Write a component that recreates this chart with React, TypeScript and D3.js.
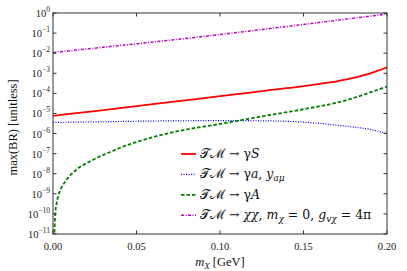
import React, { useRef, useEffect } from "react";
import * as d3 from "d3";

// m_X [GeV] sample points for each curve
const massS = [0, 0.025, 0.05, 0.075, 0.1, 0.125, 0.15, 0.16, 0.17, 0.175, 0.18, 0.185, 0.19, 0.195, 0.2];
const brS = [7.6e-6, 1.32e-5, 2.3e-5, 4.1e-5, 7.2e-5, 1.29e-4, 2.3e-4, 3.0e-4, 4.0e-4, 4.8e-4, 5.9e-4, 7.6e-4, 1.0e-3, 1.38e-3, 2.0e-3];

const massA = [0, 0.025, 0.05, 0.075, 0.1, 0.125, 0.15, 0.16, 0.17, 0.18, 0.19, 0.2];
const brA = [3.6e-6, 3.8e-6, 4.1e-6, 4.3e-6, 4.4e-6, 4.3e-6, 3.7e-6, 3.2e-6, 2.6e-6, 2.1e-6, 1.6e-6, 1.0e-6];

const massBigA = [0.0008, 0.001, 0.0014, 0.0022, 0.003, 0.004, 0.0056, 0.0074, 0.0096, 0.012, 0.015, 0.0174, 0.0206, 0.027, 0.032, 0.038, 0.05, 0.075, 0.1, 0.125, 0.15, 0.175, 0.19, 0.2];
const brBigA = [6.3e-12, 2.5e-11, 1.12e-10, 3.4e-10, 7.2e-10, 1.29e-9, 2.45e-9, 4.1e-9, 7.2e-9, 1.12e-8, 1.86e-8, 2.5e-8, 3.5e-8, 6.6e-8, 1.0e-7, 1.66e-7, 3.8e-7, 1.32e-6, 3.0e-6, 7.1e-6, 1.62e-5, 4.4e-5, 1.12e-4, 2.2e-4];

const massChi = [0, 0.025, 0.05, 0.075, 0.1, 0.125, 0.15, 0.175, 0.2];
const brChi = [0.0107, 0.0178, 0.0295, 0.049, 0.085, 0.151, 0.27, 0.49, 0.89];

const xTicks = [0, 0.05, 0.1, 0.15, 0.2];
const yExponents = [0, -1, -2, -3, -4, -5, -6, -7, -8, -9, -10, -11];

const series = [
  { mass: massS, br: brS, color: "#ff0000", width: 1.8, dash: "", label: [["𝒯ℳ → γ", ""], ["S", "i"]] },
  { mass: massA, br: brA, color: "#0000ff", width: 1.2, dash: "1,1.5", label: [["𝒯ℳ → γ", ""], ["a", "i"], [", ", ""], ["y", "i"], ["aμ", "sub"]] },
  { mass: massBigA, br: brBigA, color: "#008000", width: 1.8, dash: "3.5,2", label: [["𝒯ℳ → γ", ""], ["A", "i"]] },
  { mass: massChi, br: brChi, color: "#bf00bf", width: 1.5, dash: "3,1.5,1,1.5", label: [["𝒯ℳ → ", ""], ["χχ", "i"], [", ", ""], ["m", "i"], ["χ", "sub"], [" = 0, ", ""], ["g", "i"], ["vχ", "sub"], [" = 4π", ""]] },
];

const W = 407;
const H = 271;
const margin = { left: 53, right: 20, top: 13, bottom: 37 };
const font = "'Liberation Serif', 'DejaVu Serif', serif";
const legendFont = "'DejaVu Serif', 'Liberation Serif', serif";

const App = () => {
  const ref = useRef<SVGSVGElement | null>(null);

  useEffect(() => {
    if (!ref.current) return;
    const svg = d3.select(ref.current);
    svg.selectAll("*").remove();

    const x = d3.scaleLinear().domain([0, 0.2]).range([margin.left, W - margin.right]);
    const y = d3.scaleLog().domain([1e-11, 1]).range([H - margin.bottom, margin.top]);

    svg.append("clipPath").attr("id", "plot-clip")
      .append("rect")
      .attr("x", margin.left).attr("y", margin.top)
      .attr("width", W - margin.left - margin.right)
      .attr("height", H - margin.top - margin.bottom);

    // curves
    const line = d3.line<[number, number]>()
      .x((d) => x(d[0]))
      .y((d) => y(d[1]))
      .curve(d3.curveMonotoneX);

    const g = svg.append("g").attr("clip-path", "url(#plot-clip)");
    series.forEach((s) => {
      const pts = s.mass.map((m, i) => [m, s.br[i]] as [number, number]);
      g.append("path")
        .attr("d", line(pts) as string)
        .attr("fill", "none")
        .attr("stroke", s.color)
        .attr("stroke-width", s.width)
        .attr("stroke-dasharray", s.dash || null);
    });

    // frame
    const x0 = margin.left, x1 = W - margin.right, y0 = margin.top, y1 = H - margin.bottom;
    svg.append("rect")
      .attr("x", x0).attr("y", y0)
      .attr("width", x1 - x0).attr("height", y1 - y0)
      .attr("fill", "none").attr("stroke", "#333").attr("stroke-width", 1);

    // ticks (inward on all sides)
    const tl = 3.5;
    xTicks.forEach((t) => {
      svg.append("line").attr("x1", x(t)).attr("x2", x(t)).attr("y1", y1).attr("y2", y1 - tl).attr("stroke", "#333");
      svg.append("line").attr("x1", x(t)).attr("x2", x(t)).attr("y1", y0).attr("y2", y0 + tl).attr("stroke", "#333");
      svg.append("text")
        .attr("x", x(t)).attr("y", y1 + 16)
        .attr("text-anchor", "middle")
        .style("font-family", font).style("font-size", "10.5px").style("fill", "#222")
        .text(d3.format(".2f")(t));
    });

    yExponents.forEach((e) => {
      const yy = y(Math.pow(10, e));
      svg.append("line").attr("x1", x0).attr("x2", x0 + tl).attr("y1", yy).attr("y2", yy).attr("stroke", "#333");
      svg.append("line").attr("x1", x1).attr("x2", x1 - tl).attr("y1", yy).attr("y2", yy).attr("stroke", "#333");
      const txt = svg.append("text")
        .attr("x", x0 - 3).attr("y", yy + 4)
        .attr("text-anchor", "end")
        .style("font-family", font).style("font-size", "10.5px").style("fill", "#222");
      txt.append("tspan").text("10");
      txt.append("tspan").attr("dy", -5).style("font-size", "7.5px")
        .text(e === 0 ? "0" : `\u2212${Math.abs(e)}`);
    });

    // axis labels
    const xl = svg.append("text")
      .attr("x", (x0 + x1) / 2).attr("y", H - 5)
      .attr("text-anchor", "middle")
      .style("font-family", font).style("font-size", "12.5px").style("fill", "#111");
    xl.append("tspan").style("font-style", "italic").text("m");
    xl.append("tspan").attr("dy", 3).style("font-size", "9px").style("font-style", "italic").text("X");
    xl.append("tspan").attr("dy", -3).text(" [GeV]");

    svg.append("text")
      .attr("transform", `translate(17, ${(y0 + y1) / 2 + 4}) rotate(-90)`)
      .attr("text-anchor", "middle")
      .style("font-family", font).style("font-size", "12.5px").style("fill", "#111")
      .text("max(BR) [unitless]");

    // legend
    const lx = 181;
    const ly = 154;
    const step = 20.4;
    series.forEach((s, i) => {
      const yy = ly + i * step;
      svg.append("line")
        .attr("x1", lx).attr("x2", lx + 15).attr("y1", yy).attr("y2", yy)
        .attr("stroke", s.color).attr("stroke-width", s.width)
        .attr("stroke-dasharray", s.dash || null);
      const t = svg.append("text")
        .attr("x", lx + 19).attr("y", yy + 4)
        .style("font-family", legendFont).style("font-size", "12.5px").style("fill", "#111");
      let sub = false;
      s.label.forEach(([str, kind]) => {
        const sp = t.append("tspan").text(str);
        if (kind === "i") sp.style("font-style", "italic");
        if (kind === "sub") {
          sp.attr("dy", 3).style("font-size", "9px").style("font-style", "italic");
          sub = true;
        } else if (sub) {
          sp.attr("dy", -3);
          sub = false;
        }
      });
    });
  }, []);

  return (
    <svg
      ref={ref}
      width={W}
      height={H}
      style={{ position: "absolute", left: 0, top: 0, background: "#fff" }}
    />
  );
};

export default App;
